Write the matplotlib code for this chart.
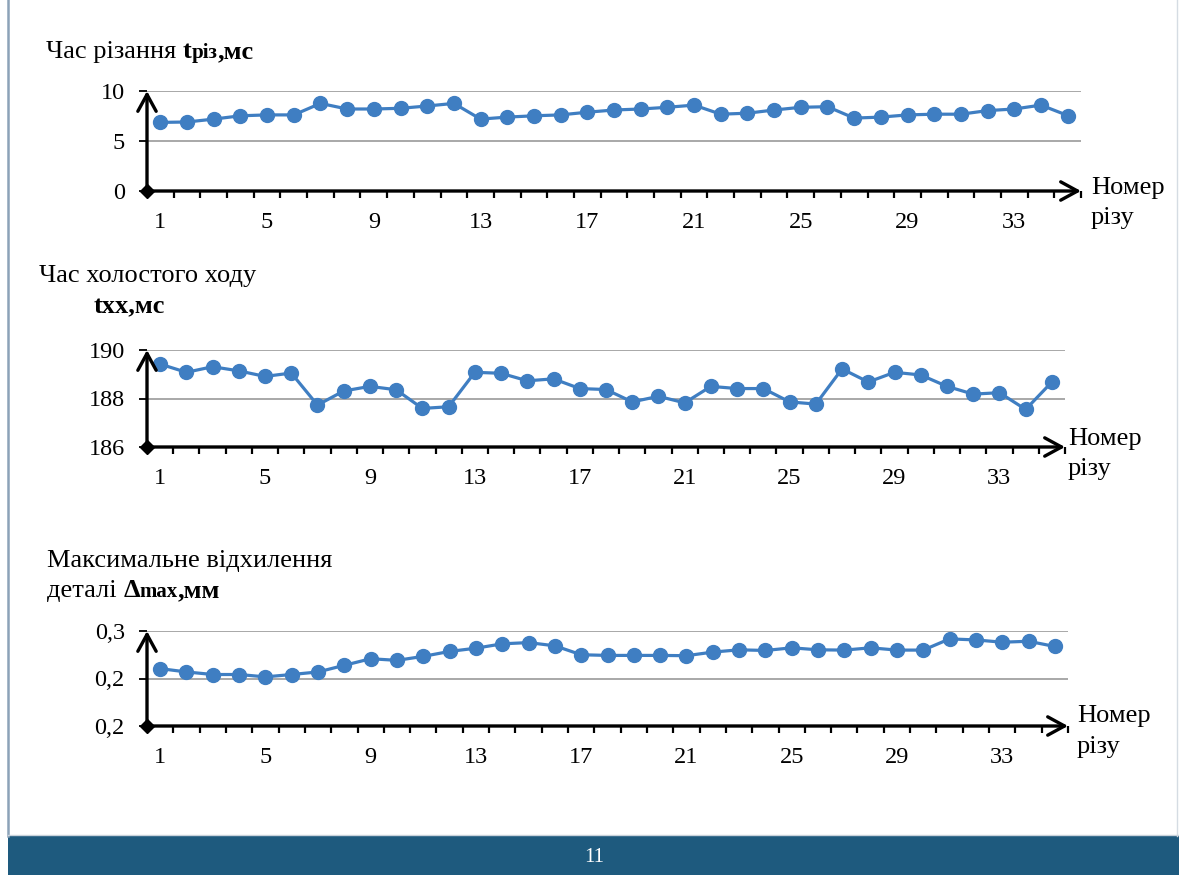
import numpy as np
import matplotlib
matplotlib.use("Agg")
import matplotlib.pyplot as plt
from matplotlib.patches import Rectangle
from matplotlib.lines import Line2D
from matplotlib.text import Annotation

W, H = 1179, 875
SERIF = ["Liberation Serif", "DejaVu Serif"]
plt.rcParams["font.family"] = SERIF

# ---- data -------------------------------------------------------------
cut_no = np.arange(1, 36)

# cutting time, ms
t_cut = [6.86, 6.90, 7.19, 7.52, 7.61, 7.61, 8.76, 8.20, 8.20, 8.27,
         8.50, 8.76, 7.19, 7.39, 7.52, 7.61, 7.88, 8.10, 8.20, 8.37,
         8.59, 7.68, 7.78, 8.10, 8.37, 8.43, 7.29, 7.39, 7.61, 7.68,
         7.68, 8.04, 8.20, 8.59, 7.55]

# idle stroke time, ms
t_idle = [189.42, 189.08, 189.31, 189.14, 188.91, 189.05, 187.73, 188.31, 188.50, 188.36,
          187.59, 187.66, 189.08, 189.04, 188.73, 188.81, 188.41, 188.37, 187.86, 188.09,
          187.82, 188.50, 188.41, 188.41, 187.86, 187.77, 189.22, 188.68, 189.08, 188.97,
          188.50, 188.18, 188.24, 187.55, 188.68]

# maximum part deviation, mm
delta_max = [0.2104, 0.2069, 0.2042, 0.2042, 0.2017, 0.2042, 0.2069, 0.2139, 0.2208, 0.2191,
             0.2233, 0.2285, 0.2319, 0.2365, 0.2378, 0.2344, 0.2250, 0.2243, 0.2243, 0.2243,
             0.2240, 0.2278, 0.2302, 0.2295, 0.2323, 0.2302, 0.2299, 0.2323, 0.2299, 0.2299,
             0.2417, 0.2406, 0.2382, 0.2392, 0.2337]

x_tick_labels = [1, 5, 9, 13, 17, 21, 25, 29, 33]

cut_ticks = [0, 5, 10]
cut_tick_labels = ["0", "5", "10"]
idle_ticks = [186, 188, 190]
idle_tick_labels = ["186", "188", "190"]
dev_ticks = [0.15, 0.20, 0.25]
dev_tick_labels = ["0,2", "0,2", "0,3"]

# ---- style ------------------------------------------------------------
BLUE = "#3F7EC2"
GRID = "#A8A8A8"
BAND = "#1E5A7E"
TICK_FS = 17.5
TITLE_FS = 19
SMALL_FS = 15

fig = plt.figure(figsize=(W / 100, H / 100), dpi=100)
fig.patch.set_facecolor("white")


def fx(px):
    return px / W


def fy(py):
    return 1 - py / H


def series_axes(l, t, r, b, ylim, yticks, ylabels, values):
    ax = fig.add_axes([fx(l), fy(b), (r - l) / W, (b - t) / H])
    ax.set_facecolor("none")
    ax.set_xlim(0.5, 35.5)
    ax.set_ylim(*ylim)
    for s in ax.spines.values():
        s.set_visible(False)
    ax.set_yticks(yticks)
    ax.set_yticklabels(ylabels)
    ax.set_xticks(x_tick_labels)
    ax.set_xticklabels([str(v) for v in x_tick_labels])
    ax.set_xticks(np.arange(1.5, 35.6, 1), minor=True)
    ax.tick_params(axis="x", which="major", length=0, pad=15, labelsize=TICK_FS)
    ax.tick_params(axis="x", which="minor", length=5, width=1.6,
                   direction="out", color="black")
    ax.tick_params(axis="y", which="major", length=6, width=1.3,
                   direction="out", color="black", pad=10, labelsize=TICK_FS)
    for yv in yticks[1:]:
        ax.axhline(yv, color=GRID, lw=1.4, zorder=1)
    ax.plot(cut_no, values, color=BLUE, lw=2.3, marker="o", ms=10,
            mec=BLUE, mfc=BLUE, zorder=4, clip_on=False)
    arrow = dict(arrowstyle="->,head_length=0.55,head_width=0.3",
                 lw=2.4, color="black", shrinkA=0, shrinkB=0,
                 mutation_scale=22)
    ax.annotate("", xy=(1, 0), xytext=(0, 0), xycoords="axes fraction",
                arrowprops=arrow, zorder=5, annotation_clip=False)
    ax.annotate("", xy=(0, 1), xytext=(0, 0), xycoords="axes fraction",
                arrowprops=arrow, zorder=5, annotation_clip=False)
    ax.plot([0], [0], transform=ax.transAxes, marker="D", ms=7.5,
            color="black", clip_on=False, zorder=6)
    return ax


def rich_line(x_px, base_px, parts):
    """Draw a line of text made of differently styled pieces."""
    size, weight, s = parts[0]
    prev = fig.text(fx(x_px), fy(base_px), s, fontsize=size,
                    fontweight=weight, va="baseline", ha="left")
    for size, weight, s in parts[1:]:
        ann = Annotation(s, xy=(1, 0), xycoords=prev, fontsize=size,
                         fontweight=weight, va="bottom", ha="left",
                         family=SERIF)
        fig.add_artist(ann)
        prev = ann


def axis_name(x_px, base1, base2):
    fig.text(fx(x_px), fy(base1), "Номер", fontsize=19, va="baseline", ha="left")
    fig.text(fx(x_px), fy(base2), "різу", fontsize=19, va="baseline", ha="left")


# ---- panel 1: cutting time --------------------------------------------
series_axes(147, 91, 1081, 191, (0, 10), cut_ticks, cut_tick_labels, t_cut)
rich_line(46, 58, [(TITLE_FS, "normal", "Час різання "),
                   (TITLE_FS, "bold", "t"),
                   (SMALL_FS, "bold", "різ"),
                   (TITLE_FS, "bold", ",мс")])
axis_name(1091, 194, 224)

# ---- panel 2: idle time -----------------------------------------------
series_axes(147, 350, 1065, 447, (186, 190), idle_ticks, idle_tick_labels, t_idle)
rich_line(39, 282, [(TITLE_FS, "normal", "Час холостого ходу")])
rich_line(94, 313, [(TITLE_FS, "bold", "tхх,мс")])
axis_name(1068, 445, 475)

# ---- panel 3: maximum deviation ---------------------------------------
series_axes(147, 631, 1068, 726, (0.15, 0.25), dev_ticks, dev_tick_labels, delta_max)
rich_line(47, 567, [(TITLE_FS, "normal", "Максимальне відхилення")])
rich_line(47, 597, [(TITLE_FS, "normal", "деталі "),
                    (TITLE_FS, "bold", "Δ"),
                    (SMALL_FS, "bold", "max"),
                    (TITLE_FS, "bold", ",мм")])
axis_name(1077, 722, 753)

# ---- slide frame and footer -------------------------------------------
fig.add_artist(Line2D([fx(8), fx(8)], [fy(836), 1], color="#8CA2B8", lw=1.8))
fig.add_artist(Line2D([fx(1177), fx(1177)], [fy(836), 1], color="#D5DCE3", lw=1))
fig.add_artist(Line2D([fx(8), 1], [fy(835), fy(835)], color="#C9D2DB", lw=1))
fig.add_artist(Rectangle((fx(8), 0), 1 - fx(8), (H - 836) / H,
                         transform=fig.transFigure, color=BAND, lw=0))
fig.text(fx(594), fy(858), "11", color="white", fontsize=15,
         ha="center", va="center")

fig.savefig("out.png", dpi=100, facecolor="white")
